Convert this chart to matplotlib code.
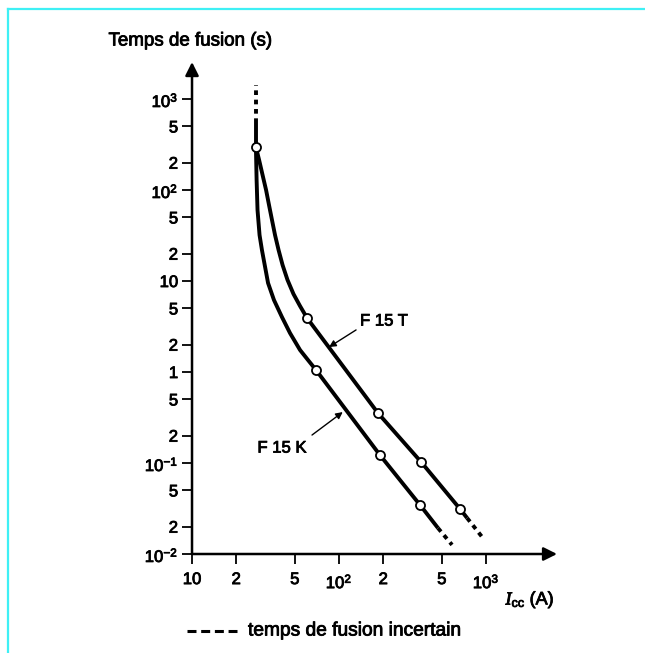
import matplotlib
matplotlib.use("Agg")
import matplotlib.pyplot as plt
import matplotlib.patheffects as pe
from matplotlib.lines import Line2D
from matplotlib.ticker import FixedLocator, FixedFormatter, NullLocator

plt.rcParams['font.family'] = ['Liberation Sans', 'DejaVu Sans']
plt.rcParams['mathtext.fontset'] = 'custom'
plt.rcParams['mathtext.rm'] = 'Liberation Sans'
plt.rcParams['mathtext.it'] = 'Liberation Serif:italic'

# courbes temps / courant (A, s)
f15t_current = [27.2, 28.6, 30.2, 31.9, 33.4, 35.0, 36.7, 38.8, 41.3, 44.6,
                49.0, 54.3, 60.6, 184, 361, 665, 743]
f15t_time = [297, 214, 146, 100, 68.4, 46.8, 32.0, 21.9, 15.0, 10.3,
             7.20, 5.31, 3.92, 0.354, 0.103, 0.0313, 0.0249]
f15k_current = [27.2, 27.5, 27.9, 28.8, 29.9, 31.4, 32.9, 36.1, 40.9, 46.4,
                54.3, 61.1, 69.8, 190, 356, 471]
f15k_time = [297, 129, 60.3, 32.0, 21.9, 14.3, 9.51, 6.18, 4.02, 2.68,
             1.745, 1.373, 1.05, 0.122, 0.0345, 0.0193]

# points repérés (cercles)
f15t_pts_current = [27.2, 60.6, 184, 361, 665]
f15t_pts_time = [297, 3.92, 0.354, 0.103, 0.0313]
f15k_pts_current = [69.8, 190, 356]
f15k_pts_time = [1.05, 0.122, 0.0345]

# parties incertaines
top_current = [27.2, 27.2]
top_solid_time = [297, 545]
top_dotted_time = [545, 1425]
f15t_tail_current = [743, 940]
f15t_tail_time = [0.0249, 0.0154]
f15k_tail_current = [471, 587]
f15k_tail_time = [0.0193, 0.0126]

x_ticks = [10, 20, 50, 100, 200, 500, 1000]
x_labels = ["10", "2", "5", r"$10^2$", "2", "5", r"$10^3$"]
y_ticks = [0.01, 0.02, 0.05, 0.1, 0.2, 0.5, 1, 2, 5, 10, 20, 50, 100, 200, 500, 1000]
y_labels = [r"$10^{-2}$", "2", "5", r"$10^{-1}$", "2", "5", "1", "2", "5", "10",
            "2", "5", r"$10^2$", "2", "5", r"$10^3$"]

heavy = [pe.withStroke(linewidth=0.6, foreground='black')]

fig = plt.figure(figsize=(6.45, 6.53), dpi=100)
ax = fig.add_axes([0.2977, 0.1516, 0.5659, 0.7534])

lw = 2.8
ax.plot(f15t_current, f15t_time, color='black', lw=lw, solid_capstyle='butt')
ax.plot(f15k_current, f15k_time, color='black', lw=lw, solid_capstyle='butt')
ax.plot(top_current, top_solid_time, color='black', lw=lw, solid_capstyle='butt')
dot = dict(color='black', lw=lw, dashes=(1.2, 1.2))
ax.plot(top_current, top_dotted_time, **dot)
ax.plot(f15t_tail_current, f15t_tail_time, **dot)
ax.plot(f15k_tail_current, f15k_tail_time, **dot)

mk = dict(ls='none', marker='o', ms=6.5, mfc='white', mec='black', mew=1.3, zorder=5)
ax.plot(f15t_pts_current, f15t_pts_time, **mk)
ax.plot(f15k_pts_current, f15k_pts_time, **mk)

ax.set_xscale('log')
ax.set_yscale('log')
ax.set_xlim(10, 3040)
ax.set_ylim(0.01, 2550)

ax.xaxis.set_major_locator(FixedLocator(x_ticks))
ax.xaxis.set_major_formatter(FixedFormatter(x_labels))
ax.xaxis.set_minor_locator(NullLocator())
ax.yaxis.set_major_locator(FixedLocator(y_ticks))
ax.yaxis.set_major_formatter(FixedFormatter(y_labels))
ax.yaxis.set_minor_locator(NullLocator())
ax.tick_params(axis='both', length=7, width=1.3, labelsize=12, pad=3)
ax.tick_params(axis='x', pad=6)
for lab in ax.get_xticklabels() + ax.get_yticklabels():
    lab.set_path_effects(heavy)

for s in ax.spines.values():
    s.set_visible(False)
ax.patch.set_visible(False)
arrow = dict(arrowstyle='-|>', lw=1.8, color='black', mutation_scale=20,
             shrinkA=0, shrinkB=0)
ax.annotate('', xy=(0, 1), xytext=(0, 0), xycoords='axes fraction', arrowprops=arrow)
ax.annotate('', xy=(1, 0), xytext=(0, 0), xycoords='axes fraction', arrowprops=arrow)

small = dict(arrowstyle='-|>', lw=1.0, color='black', mutation_scale=10,
             shrinkA=0, shrinkB=0)
ax.text(202, 3.63, "F 15 T", fontsize=12, ha='center', va='center',
        path_effects=heavy)
ax.annotate('', xy=(85.5, 1.88), xytext=(130.6, 2.9), arrowprops=small)
ax.text(40.9, 0.146, "F 15 K", fontsize=12, ha='center', va='center',
        path_effects=heavy)
ax.annotate('', xy=(106, 0.363), xytext=(65.5, 0.203), arrowprops=small)

fig.text(190 / 645, 1 - 41 / 653, "Temps de fusion (s)", fontsize=13.5,
         ha='center', va='center', path_effects=heavy)
fig.text(530 / 645, 1 - 600 / 653, r"$I_{\mathrm{cc}}$ (A)", fontsize=13,
         ha='center', va='center', path_effects=heavy)

fig.add_artist(Line2D([187 / 645, 237 / 645], [1 - 631 / 653, 1 - 631 / 653],
                      color='black', lw=2.2, dashes=(2.94, 1.54)))
fig.text(248 / 645, 1 - 631 / 653, "temps de fusion incertain", fontsize=13.8,
         ha='left', va='center', path_effects=heavy)

cyan = '#3ff0f5'
fig.add_artist(Line2D([8 / 645, 8 / 645], [0, 1 - 9 / 653], color=cyan, lw=1.6))
fig.add_artist(Line2D([8 / 645, 1], [1 - 9 / 653, 1 - 9 / 653], color=cyan, lw=1.6))

fig.savefig("out.png", dpi=100)
